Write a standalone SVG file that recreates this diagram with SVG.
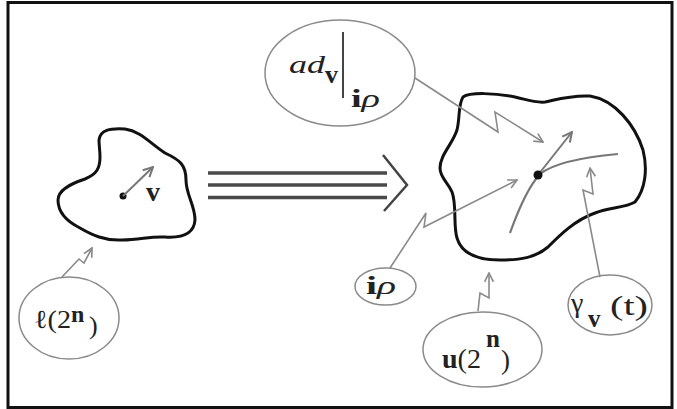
<svg xmlns="http://www.w3.org/2000/svg" width="677" height="409" viewBox="0 0 677 409">
<style>
text{font-family:"Liberation Serif","DejaVu Serif",serif;fill:#222}
.b{font-weight:bold}
.i{font-style:italic}
.blob{fill:none;stroke:#111;stroke-width:3;stroke-linejoin:round}
.ell{fill:none;stroke:#8a8a8a;stroke-width:1.5}
.ann{fill:none;stroke:#8a8a8a;stroke-width:1.6;stroke-linejoin:miter;marker-end:url(#ah)}
.tan{fill:none;stroke:#777;stroke-width:2;marker-end:url(#ah2)}
.tri{stroke:#4a4a4a;stroke-width:3.5}
</style>
<defs>
<marker id="ah" viewBox="0 0 10 10" refX="9" refY="5" markerWidth="11" markerHeight="11" markerUnits="userSpaceOnUse" orient="auto">
<path d="M1,1 L9,5 L1,9" fill="none" stroke="#8a8a8a" stroke-width="1.5"/>
</marker>
<marker id="ah2" viewBox="0 0 10 10" refX="9" refY="5" markerWidth="12" markerHeight="12" markerUnits="userSpaceOnUse" orient="auto">
<path d="M1,1 L9,5 L1,9" fill="none" stroke="#777" stroke-width="1.7"/>
</marker>
</defs>
<rect x="8" y="2.5" width="664" height="405" fill="#fff" stroke="#111" stroke-width="3"/>

<g id="left-blob">
<path class="blob" d="M99,140 C100,130 110,128 125,129 C140,131 150,143 165,153 C180,160 186,165 186,180 C186,195 195,205 195,220 C194,235 180,238 165,237 C150,236 140,240 122,240 C105,241 92,235 80,228 C68,222 58,213 58,200 C58,190 70,184 85,179 C97,174 100,168 100,157 C100,150 99,146 99,140 Z"/>
<circle cx="123" cy="196" r="3.5" fill="#111"/>
<path class="tan" d="M123,196 L153,167"/>
<text class="b" x="146" y="201" font-size="28">v</text>
</g>

<g id="implies">
<line class="tri" x1="208" y1="173" x2="387" y2="173"/>
<line class="tri" x1="208" y1="185" x2="387" y2="185"/>
<line class="tri" x1="208" y1="197.5" x2="387" y2="197.5"/>
<path d="M383,155 L407,185 L384,211" fill="none" stroke="#444" stroke-width="2.5"/>
</g>

<g id="right-blob">
<path class="blob" d="M463,97 C470,92 495,93 515,97 C528,100 535,103 545,102 C555,100 570,95 590,96 C615,100 635,125 643,150 C648,170 645,190 635,202 C625,208 610,207 595,213 C575,220 560,235 548,247 C535,258 520,260 500,260 C480,260 462,255 457,238 C453,225 457,205 452,192 C448,182 440,178 440,168 C440,155 452,145 457,130 C460,118 458,105 463,97 Z"/>
<path d="M510,233 C520,205 530,185 540,174 C555,162 585,157 618,154" fill="none" stroke="#777" stroke-width="2.2"/>
<path class="tan" d="M538,175 L572,132"/>
<circle cx="538" cy="175" r="4.5" fill="#111"/>
</g>

<g id="node-adv">
<ellipse class="ell" cx="340" cy="73" rx="75" ry="53"/>
<text class="i" x="289" y="73" font-size="26" textLength="36" lengthAdjust="spacingAndGlyphs">ad</text>
<text class="b" x="325" y="83" font-size="26">v</text>
<line x1="343" y1="32" x2="343" y2="98" stroke="#444" stroke-width="2"/>
<text x="351" y="107" font-size="25" textLength="29" lengthAdjust="spacingAndGlyphs"><tspan class="b">i</tspan><tspan class="i">ρ</tspan></text>
</g>

<g id="node-irho">
<ellipse class="ell" cx="385.5" cy="286.5" rx="30.5" ry="18.5"/>
<text x="366" y="294" font-size="26" textLength="30" lengthAdjust="spacingAndGlyphs"><tspan class="b">i</tspan><tspan class="i">ρ</tspan></text>
</g>

<g id="node-u">
<ellipse class="ell" cx="482.5" cy="349.5" rx="59.5" ry="37.5"/>
<text x="442" y="368" font-size="27" textLength="39" lengthAdjust="spacingAndGlyphs"><tspan class="b">u</tspan>(2</text>
<text class="b" x="486" y="347" font-size="25">n</text>
<text x="501" y="369" font-size="27">)</text>
</g>

<g id="node-gamma">
<ellipse class="ell" cx="610" cy="305" rx="42" ry="30"/>
<text x="571" y="312" font-size="28">γ</text>
<text class="b" x="588" y="327" font-size="25">v</text>
<text x="610" y="315" font-size="27" textLength="38" lengthAdjust="spacingAndGlyphs">(t)</text>
</g>

<g id="node-l">
<ellipse class="ell" cx="69" cy="318" rx="50" ry="41"/>
<text x="34" y="328" font-size="26" textLength="37" lengthAdjust="spacingAndGlyphs">ℓ(2</text>
<text class="b" x="71" y="322" font-size="24">n</text>
<text x="89" y="334" font-size="26">)</text>
</g>

<g id="connectors">
<path class="ann" d="M415,78 L498,132 L495,112 L543,142"/>
<path class="ann" d="M390,268 L426,213 L424,227 L517,180"/>
<path class="ann" d="M600,277 L583,190 L593,194 L590,168"/>
<path class="ann" d="M478,311 L480,293 L489,298 L489,273"/>
<path class="ann" d="M62,277 L79,259 L84,263 L92,248"/>
</g>
</svg>
